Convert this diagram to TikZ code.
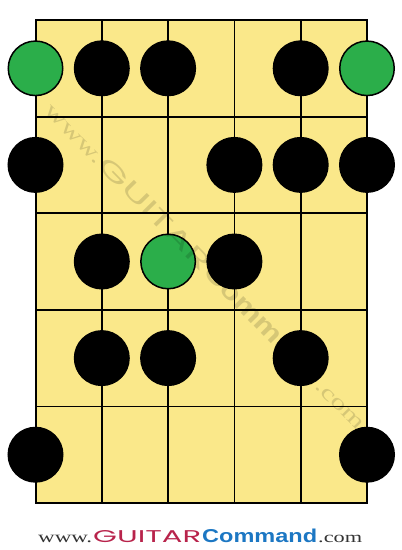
\documentclass[tikz,border=0pt]{standalone}
\usepackage{fontspec}
\usepackage{graphicx}
\setmainfont{Liberation Serif}
\newfontfamily\geofont{Poppins}
\newfontfamily\boldsans{Liberation Sans}[BoldFont={Liberation Sans Bold}]
\definecolor{board}{HTML}{FAE88A}
\definecolor{rootgreen}{HTML}{2BAE4A}
\definecolor{gcred}{HTML}{B8234B}
\definecolor{gcblue}{HTML}{1C77C3}
\definecolor{wwwgray}{HTML}{333333}
\newcommand{\gcmark}[3]{%
  \resizebox{54pt}{7.3pt}{\color{#1}www.}%
  \hspace{1pt}%
  \resizebox{108pt}{12pt}{\color{#2}\geofont GUITAR}%
  \hspace{1pt}%
  \resizebox{115pt}{13.5pt}{\color{#3}\boldsans\bfseries Command}%
  \hspace{1pt}%
  \resizebox{44pt}{7.3pt}{\color{#1}.com}}
\begin{document}
\begin{tikzpicture}[x=1pt,y=-1pt,
  gridline/.style={line width=1.8pt},
  border/.style={line width=2pt, fill=board},
  note/.style={circle, draw=black, line width=1.5pt, minimum size=54.5pt, inner sep=0pt},
  blacknote/.style={note, fill=black},
  rootnote/.style={note, fill=rootgreen}]
\useasboundingbox (0,0) rectangle (402,550);
% strings and frets
\foreach \i/\x in {1/35.5,2/101.8,3/168.1,4/234.4,5/300.7,6/367} {
  \coordinate (s\i t) at (\x,20);
  \coordinate (s\i b) at (\x,503);
}
\foreach \j/\y in {1/116.6,2/213.2,3/309.8,4/406.4} {
  \coordinate (f\j l) at (35.5,\y);
  \coordinate (f\j r) at (367,\y);
}
\draw[border] (s1t) rectangle (s6b);
\foreach \i in {2,3,4,5} \draw[gridline] (s\i t) -- (s\i b);
\foreach \j in {1,2,3,4} \draw[gridline] (f\j l) -- (f\j r);
% notes
\node[rootnote]  (n11) at (35.5,68.3) {};
\node[blacknote] (n12) at (101.8,68.3) {};
\node[blacknote] (n13) at (168.1,68.3) {};
\node[blacknote] (n15) at (300.7,68.3) {};
\node[rootnote]  (n16) at (367,68.3) {};
\node[blacknote] (n21) at (35.5,164.9) {};
\node[blacknote] (n24) at (234.4,164.9) {};
\node[blacknote] (n25) at (300.7,164.9) {};
\node[blacknote] (n26) at (367,164.9) {};
\node[blacknote] (n32) at (101.8,261.5) {};
\node[rootnote]  (n33) at (168.1,261.5) {};
\node[blacknote] (n34) at (234.4,261.5) {};
\node[blacknote] (n42) at (101.8,358.1) {};
\node[blacknote] (n43) at (168.1,358.1) {};
\node[blacknote] (n45) at (300.7,358.1) {};
\node[blacknote] (n51) at (35.5,454.7) {};
\node[blacknote] (n56) at (367,454.7) {};
% watermark
\node[rotate=-45.5, text opacity=0.14, inner sep=0pt] (wm) at (207,265)
  {\scalebox{1.38}{\gcmark{black}{black}{black}}};
% logo
\node[anchor=base west, inner sep=0pt] (logo) at (38,542)
  {\gcmark{wwwgray}{gcred}{gcblue}};
\end{tikzpicture}
\end{document}
